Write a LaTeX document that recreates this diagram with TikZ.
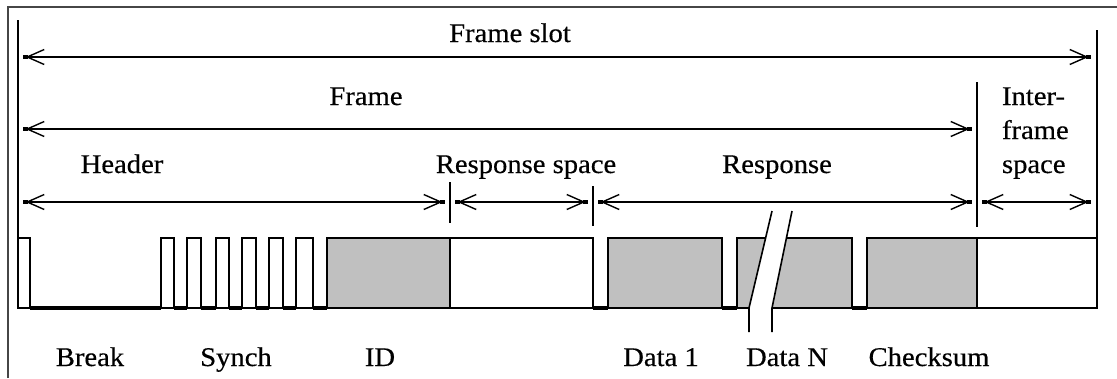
\documentclass[tikz,border=0pt]{standalone}
\usepackage{fontspec}
\setmainfont{Liberation Serif}[FakeStretch=1.06,FakeBold=0.4]
\usetikzlibrary{arrows.meta,decorations.markings}
\definecolor{fieldgray}{RGB}{192,192,192}
\definecolor{framegray}{RGB}{70,70,70}

\begin{document}
\begin{tikzpicture}[x=1pt,y=-1pt,
  every node/.style={inner sep=0pt,outer sep=0pt},
  lbl/.style={font=\fontsize{27}{34}\selectfont,anchor=base},
  rule/.style={line width=1.6pt,line join=miter},
  lowlevel/.style={line width=3.2pt},
  barb/.tip={Straight Barb[length=17pt,width=15pt,line width=1.4pt]},
  dim/.style={line width=1.5pt,{barb}-{barb},
    postaction=decorate,
    decoration={markings,
      mark=at position 0 with {\fill (-2.4pt,-2.4pt) rectangle (2.4pt,2.4pt);},
      mark=at position 1 with {\fill (-2.4pt,-2.4pt) rectangle (2.4pt,2.4pt);}}},
  field/.style={rule,fill=fieldgray},
  gap/.style={rule,fill=white}]

% canvas and window border
\useasboundingbox (0,0) rectangle (1117,378);
\fill[white] (0,0) rectangle (1117,378);
\draw[framegray,line width=1.6pt] (8,378) -- (8,7) -- (1117,7);

% extension lines that bound the dimension arrows
\coordinate (startTop) at (18,20);
\coordinate (startBot) at (18,308);
\coordinate (slotTop)  at (1097,30);
\coordinate (slotBot)  at (1097,308);
\coordinate (frameTop) at (977,82);
\coordinate (frameBot) at (977,227);
\coordinate (idTop)    at (450,182);
\coordinate (idBot)    at (450,223);
\coordinate (rsTop)    at (593,186);
\coordinate (rsBot)    at (593,226);
\draw[rule] (startTop) -- (startBot);
\draw[rule] (slotTop) -- (slotBot);
\draw[rule] (frameTop) -- (frameBot);
\draw[rule] (idTop) -- (idBot);
\draw[rule] (rsTop) -- (rsBot);

% dimension rows
\coordinate (slotL)  at (18,57);
\coordinate (slotR)  at (1097,57);
\coordinate (frameL) at (18,129);
\coordinate (frameR) at (977,129);
\coordinate (r0) at (18,202);
\coordinate (r1) at (450,202);
\coordinate (r2) at (593,202);
\coordinate (r3) at (977,202);
\coordinate (r4) at (1097,202);

\draw[dim] ([xshift=7.5pt]slotL) -- ([xshift=-8.5pt]slotR);
\draw[dim] ([xshift=7.5pt]frameL) -- ([xshift=-7.5pt]frameR);
\draw[dim] ([xshift=7.5pt]r0) -- ([xshift=-7.5pt]r1);
\draw[dim] ([xshift=7.5pt]r1) -- ([xshift=-7.5pt]r2);
\draw[dim] ([xshift=7.5pt]r2) -- ([xshift=-7.5pt]r3);
\draw[dim] ([xshift=7.5pt]r3) -- ([xshift=-8.5pt]r4);

% dimension labels
\node[lbl] (lslot)   at (510,42)  {Frame slot};
\node[lbl] (lframe)  at (366,105) {Frame};
\node[lbl] (lheader) at (122,173) {Header};
\node[lbl] (lrspace) at (526,173) {Response space};
\node[lbl] (lresp)   at (777,173) {Response};
\node[lbl,anchor=base west] (lifs1) at (1002,105) {Inter-};
\node[lbl,anchor=base west] (lifs2) at (1002,139) {frame};
\node[lbl,anchor=base west] (lifs3) at (1002,173) {space};

% signal: low-level stretches
\foreach \a/\b in {30/161,174/187,201/216,229/242,256/269,283/296,313/327,
                   593/608,722/737,852/867}
  \draw[lowlevel] (\a,308) -- (\b,308);

% signal: break pulse and synch pulses
\draw[gap] (18,238) rectangle (30,308);
\foreach \a/\b in {161/174,187/201,216/229,242/256,269/283,296/313}
  \draw[gap] (\a,238) rectangle (\b,308);

% fields
\draw[field] (327,238) rectangle (450,308);
\draw[gap]   (450,238) rectangle (593,308);
\draw[field] (608,238) rectangle (722,308);
\draw[field] (867,238) rectangle (977,308);
\draw[gap]   (977,238) rectangle (1097,308);

% Data N field, interrupted by a break
\fill[fieldgray] (737,238) -- (765.6,238) -- (749,308) -- (737,308) -- cycle;
\fill[fieldgray] (786.4,238) -- (852,238) -- (852,308) -- (772,308) -- cycle;
\draw[rule] (765.6,238) -- (737,238) -- (737,308) -- (749,308);
\draw[rule] (786.4,238) -- (852,238) -- (852,308) -- (772,308);
\draw[rule] (772,211) -- (749,308) -- (749,332);
\draw[rule] (792,211) -- (772,308) -- (772,332);

% field labels
\node[lbl] (lbreak) at (90,366)  {Break};
\node[lbl] (lsynch) at (236,366) {Synch};
\node[lbl] (lid)    at (380,366) {ID};
\node[lbl] (ldata1) at (661,366) {Data 1};
\node[lbl] (ldataN) at (787,366) {Data N};
\node[lbl] (lcheck) at (929,366) {Checksum};
\end{tikzpicture}
\end{document}
